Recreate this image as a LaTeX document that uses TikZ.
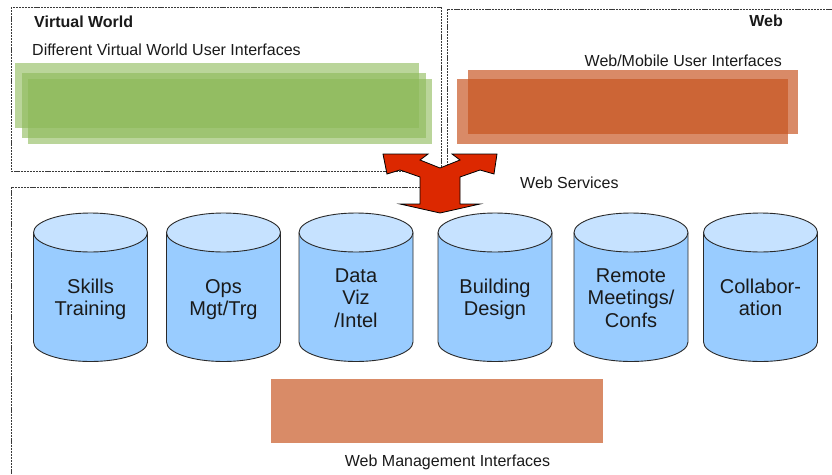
\documentclass[tikz,border=0pt]{standalone}
\usepackage{fontspec}
\setmainfont{Liberation Sans}
\definecolor{frameGray}{HTML}{3A3A3A}
\definecolor{greenUI}{RGB}{140,185,88}
\definecolor{orangeUI}{RGB}{199,84,31}
\definecolor{mgmtOrange}{HTML}{D98B67}
\definecolor{cylBody}{HTML}{99CCFF}
\definecolor{cylTop}{HTML}{C6E2FF}
\definecolor{cylEdge}{HTML}{2A2A2A}
\definecolor{arrowRed}{HTML}{DC2800}
\definecolor{ink}{HTML}{1A1A1A}

% one database cylinder: name, centre x, last baseline, label
\newcommand\dbcyl[4]{%
  \fill[cylBody] (#2-57,232.5) -- (#2-57,342)
    arc[start angle=180,end angle=0,x radius=57,y radius=19.5]
    -- (#2+57,232.5) -- cycle;
  \draw[cylline] (#2-57,232.5) -- (#2-57,342)
    arc[start angle=180,end angle=0,x radius=57,y radius=19.5]
    -- (#2+57,232.5);
  \draw[cylline,fill=cylTop] (#2,232.5) ellipse[x radius=57,y radius=19.5];
  \node[cyltext,anchor=base] (#1) at (#2,#3) {#4};
}

\begin{document}
\begin{tikzpicture}[x=1pt,y=-1pt,
  frame/.style={draw=frameGray,line width=0.8pt,dash pattern=on 2.2pt off 0.9pt},
  lbl/.style={inner sep=0pt,text=ink,font=\fontsize{16}{19}\selectfont},
  lblbold/.style={lbl,font=\fontsize{16}{19}\selectfont\bfseries},
  greenbar/.style={fill=greenUI,fill opacity=.6},
  orangebar/.style={fill=orangeUI,fill opacity=.68},
  cylline/.style={draw=cylEdge,line width=0.9pt},
  cyltext/.style={inner sep=0pt,align=center,text=ink,font=\fontsize{20}{22.5}\selectfont},
  bigarrow/.style={fill=arrowRed,draw=black,line width=0.8pt,line join=miter}]
\useasboundingbox (0,0) rectangle (832,474);
\fill[white] (0,0) rectangle (832,474);

% dashed frames: virtual world, web, web services
\draw[frame] (11,7) rectangle (441,171);
\draw[frame] (447,166) -- (447,9) -- (832,9);
\draw[frame] (420,187) -- (11,187) -- (11,474);

% virtual world user interfaces (stacked)
\fill[greenbar] (15,63) rectangle (419,128);
\fill[greenbar] (22,73) rectangle (426,138);
\fill[greenbar] (28,79) rectangle (432,144);

% web / mobile user interfaces (stacked)
\fill[orangebar] (468,70) rectangle (798,134);
\fill[orangebar] (457,79) rectangle (788,144);

% titles and captions
\node[lblbold,anchor=base west] (vwTitle) at (34,27.7) {Virtual World};
\node[lbl,anchor=base west] (vwSub) at (32,55) {Different Virtual World User Interfaces};
\node[lblbold,anchor=base east] (webTitle) at (783,26) {Web};
\node[lbl,anchor=base east] (webSub) at (782,66) {Web/Mobile User Interfaces};
\node[lbl,anchor=base west] (wsLabel) at (520,188.3) {Web Services};

% three-way web services arrow
\draw[bigarrow] (383,154) -- (428,154) -- (420,160) -- (440,168) -- (460,160)
  -- (452,154) -- (497,154) -- (494,174) -- (480,170) -- (460,177)
  -- (460,204) -- (480,204) -- (440,213) -- (400,204) -- (420,204)
  -- (420,177) -- (400,170) -- (387,174) -- cycle;

% service databases
\dbcyl{skills}{90.5}{315.9}{Skills\\Training}
\dbcyl{ops}{223.5}{315.9}{Ops\\Mgt/Trg}
\dbcyl{dataviz}{356}{327.1}{Data\\Viz\\/Intel}
\dbcyl{building}{495}{315.9}{Building\\Design}
\dbcyl{remote}{631}{327.1}{Remote\\Meetings/\\Confs}
\dbcyl{collab}{760.5}{315.9}{Collabor-\\ation}

% web management interfaces
\node[fill=mgmtOrange,inner sep=0pt,minimum width=332,minimum height=64] (mgmt) at (437,411) {};
\node[lbl,anchor=base] (mgmtLabel) at (447.5,466) {Web Management Interfaces};
\end{tikzpicture}
\end{document}
